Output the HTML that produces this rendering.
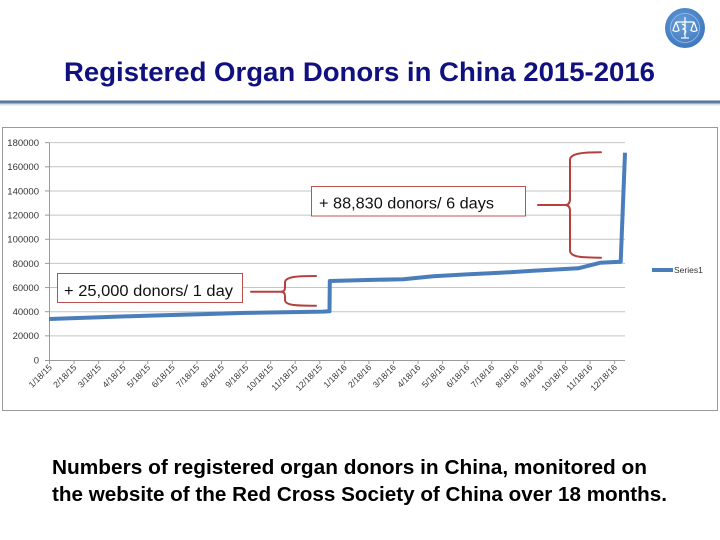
<!DOCTYPE html>
<html>
<head>
<meta charset="utf-8">
<style>
  html,body{margin:0;padding:0;background:#fff;}
  svg{display:block;}
  text{font-family:"Liberation Sans",Arial,sans-serif;}
</style>
</head>
<body>
<svg width="720" height="540" viewBox="0 0 720 540" xmlns="http://www.w3.org/2000/svg">
  <defs>
    <linearGradient id="div" x1="0" y1="0" x2="0" y2="1">
      <stop offset="0" stop-color="#4a6b95"/>
      <stop offset="1" stop-color="#6b89b0"/>
    </linearGradient>
    <linearGradient id="shadow" x1="0" y1="0" x2="0" y2="1">
      <stop offset="0" stop-color="#c8d2de"/>
      <stop offset="1" stop-color="#ffffff"/>
    </linearGradient>
    <radialGradient id="logo" cx="0.45" cy="0.4" r="0.6">
      <stop offset="0" stop-color="#6a9fd8"/>
      <stop offset="1" stop-color="#3d78bf"/>
    </radialGradient>
  </defs>

  <rect width="720" height="540" fill="#fff"/>

  <!-- Logo -->
  <circle cx="685" cy="28" r="20" fill="url(#logo)"/>
  <circle cx="685" cy="28" r="14.5" fill="none" stroke="#9cc0e8" stroke-width="0.8"/>
  <g stroke="#fff" stroke-width="1.2" fill="none">
    <line x1="685" y1="17" x2="685" y2="38"/>
    <line x1="676" y1="22" x2="694" y2="22"/>
    <path d="M676,22 L673,30 M676,22 L679,30 M694,22 L691,30 M694,22 L697,30"/>
    <path d="M672.5,30 Q676,33 679.5,30 M690.5,30 Q694,33 697.5,30"/>
    <path d="M682,24 Q688,26 683,29 Q688,31 684,34"/>
    <line x1="681" y1="38" x2="689" y2="38"/>
  </g>

  <!-- Title -->
  <text x="64" y="81" font-size="27" font-weight="bold" fill="#10107f" textLength="591" lengthAdjust="spacingAndGlyphs">Registered Organ Donors in China 2015-2016</text>

  <!-- Divider -->
  <rect x="0" y="100.5" width="720" height="3" fill="url(#div)"/>
  <rect x="0" y="103.5" width="720" height="3" fill="url(#shadow)"/>

  <!-- Chart frame -->
  <rect x="2.5" y="127.5" width="715" height="283" fill="#fff" stroke="#9a9a9a" stroke-width="1"/>

  <!-- Gridlines -->
  <g stroke="#c4c4c4" stroke-width="1">
    <line x1="49" y1="142.65" x2="625" y2="142.65"/>
    <line x1="49" y1="166.8" x2="625" y2="166.8"/>
    <line x1="49" y1="190.95" x2="625" y2="190.95"/>
    <line x1="49" y1="215.1" x2="625" y2="215.1"/>
    <line x1="49" y1="239.25" x2="625" y2="239.25"/>
    <line x1="49" y1="263.4" x2="625" y2="263.4"/>
    <line x1="49" y1="287.55" x2="625" y2="287.55"/>
    <line x1="49" y1="311.7" x2="625" y2="311.7"/>
    <line x1="49" y1="335.85" x2="625" y2="335.85"/>
  </g>

  <!-- Axes -->
  <g stroke="#9a9a9a" stroke-width="1">
    <line x1="49.5" y1="142.65" x2="49.5" y2="360"/>
    <line x1="49" y1="360.5" x2="625" y2="360.5"/>
    <!-- y ticks -->
    <line x1="45" y1="142.65" x2="49" y2="142.65"/>
    <line x1="45" y1="166.8" x2="49" y2="166.8"/>
    <line x1="45" y1="190.95" x2="49" y2="190.95"/>
    <line x1="45" y1="215.1" x2="49" y2="215.1"/>
    <line x1="45" y1="239.25" x2="49" y2="239.25"/>
    <line x1="45" y1="263.4" x2="49" y2="263.4"/>
    <line x1="45" y1="287.55" x2="49" y2="287.55"/>
    <line x1="45" y1="311.7" x2="49" y2="311.7"/>
    <line x1="45" y1="335.85" x2="49" y2="335.85"/>
    <line x1="45" y1="360.5" x2="49" y2="360.5"/>
    <!-- x ticks -->
    <line x1="49.5" y1="360" x2="49.5" y2="364"/>
    <line x1="74.07" y1="360" x2="74.07" y2="364"/>
    <line x1="98.64" y1="360" x2="98.64" y2="364"/>
    <line x1="123.21" y1="360" x2="123.21" y2="364"/>
    <line x1="147.78" y1="360" x2="147.78" y2="364"/>
    <line x1="172.35" y1="360" x2="172.35" y2="364"/>
    <line x1="196.92" y1="360" x2="196.92" y2="364"/>
    <line x1="221.49" y1="360" x2="221.49" y2="364"/>
    <line x1="246.06" y1="360" x2="246.06" y2="364"/>
    <line x1="270.63" y1="360" x2="270.63" y2="364"/>
    <line x1="295.2" y1="360" x2="295.2" y2="364"/>
    <line x1="319.77" y1="360" x2="319.77" y2="364"/>
    <line x1="344.34" y1="360" x2="344.34" y2="364"/>
    <line x1="368.91" y1="360" x2="368.91" y2="364"/>
    <line x1="393.48" y1="360" x2="393.48" y2="364"/>
    <line x1="418.05" y1="360" x2="418.05" y2="364"/>
    <line x1="442.62" y1="360" x2="442.62" y2="364"/>
    <line x1="467.19" y1="360" x2="467.19" y2="364"/>
    <line x1="491.76" y1="360" x2="491.76" y2="364"/>
    <line x1="516.33" y1="360" x2="516.33" y2="364"/>
    <line x1="540.9" y1="360" x2="540.9" y2="364"/>
    <line x1="565.47" y1="360" x2="565.47" y2="364"/>
    <line x1="590.04" y1="360" x2="590.04" y2="364"/>
    <line x1="614.61" y1="360" x2="614.61" y2="364"/>
  </g>

  <!-- Y labels -->
  <g font-size="9.5" fill="#333" text-anchor="end">
    <text x="39" y="146">180000</text>
    <text x="39" y="170.2">160000</text>
    <text x="39" y="194.3">140000</text>
    <text x="39" y="218.5">120000</text>
    <text x="39" y="242.6">100000</text>
    <text x="39" y="266.8">80000</text>
    <text x="39" y="290.9">60000</text>
    <text x="39" y="315.1">40000</text>
    <text x="39" y="339.2">20000</text>
    <text x="39" y="363.4">0</text>
  </g>

  <!-- X labels -->
  <g font-size="8.6" fill="#333" text-anchor="end">
    <text transform="translate(52.5,368) rotate(-45)">1/18/15</text>
    <text transform="translate(77.07,368) rotate(-45)">2/18/15</text>
    <text transform="translate(101.64,368) rotate(-45)">3/18/15</text>
    <text transform="translate(126.21,368) rotate(-45)">4/18/15</text>
    <text transform="translate(150.78,368) rotate(-45)">5/18/15</text>
    <text transform="translate(175.35,368) rotate(-45)">6/18/15</text>
    <text transform="translate(199.92,368) rotate(-45)">7/18/15</text>
    <text transform="translate(224.49,368) rotate(-45)">8/18/15</text>
    <text transform="translate(249.06,368) rotate(-45)">9/18/15</text>
    <text transform="translate(273.63,368) rotate(-45)">10/18/15</text>
    <text transform="translate(298.2,368) rotate(-45)">11/18/15</text>
    <text transform="translate(322.77,368) rotate(-45)">12/18/15</text>
    <text transform="translate(347.34,368) rotate(-45)">1/18/16</text>
    <text transform="translate(371.91,368) rotate(-45)">2/18/16</text>
    <text transform="translate(396.48,368) rotate(-45)">3/18/16</text>
    <text transform="translate(421.05,368) rotate(-45)">4/18/16</text>
    <text transform="translate(445.62,368) rotate(-45)">5/18/16</text>
    <text transform="translate(470.19,368) rotate(-45)">6/18/16</text>
    <text transform="translate(494.76,368) rotate(-45)">7/18/16</text>
    <text transform="translate(519.33,368) rotate(-45)">8/18/16</text>
    <text transform="translate(543.9,368) rotate(-45)">9/18/16</text>
    <text transform="translate(568.47,368) rotate(-45)">10/18/16</text>
    <text transform="translate(593.04,368) rotate(-45)">11/18/16</text>
    <text transform="translate(617.61,368) rotate(-45)">12/18/16</text>
  </g>

  <!-- Data series -->
  <polyline fill="none" stroke="#4a7ebb" stroke-width="4" stroke-linejoin="round"
    points="49,319 100,317.2 150,315.6 200,314.2 245,312.9 285,312.3 323,311.6 329.5,311.3 329.8,281 366.7,280 403.3,279.2 433.3,276.2 466.7,274.4 500,272.8 533.3,270.8 578.3,268.3 600,262.8 620.7,261.8 625,152.7"/>

  <!-- Legend -->
  <line x1="652" y1="270" x2="673" y2="270" stroke="#4a7ebb" stroke-width="4"/>
  <text x="674" y="273" font-size="8.5" fill="#333">Series1</text>

  <!-- Annotation boxes -->
  <rect x="57.5" y="273.5" width="185" height="29" fill="#fff" stroke="#c0504d" stroke-width="1"/>
  <text x="64" y="296" font-size="15.5" fill="#111" textLength="169" lengthAdjust="spacingAndGlyphs">+ 25,000 donors/ 1 day</text>

  <rect x="311.5" y="186.5" width="214" height="29.5" fill="#fff" stroke="#c0504d" stroke-width="1"/>
  <text x="319" y="208.5" font-size="15.5" fill="#111" textLength="175" lengthAdjust="spacingAndGlyphs">+ 88,830 donors/ 6 days</text>

  <!-- Braces -->
  <g fill="none" stroke="#b5403d" stroke-width="2" stroke-linecap="round">
    <line x1="251" y1="291.7" x2="281" y2="291.7"/>
    <path d="M316,276 C298,276 285,276.5 285,282.5 L285,287.5 Q285,291.7 281,291.7 Q285,291.7 285,296 L285,300 C285,305.7 298,305.7 316,305.7"/>
    <line x1="538" y1="205" x2="565" y2="205"/>
    <path d="M601,152.3 C585,152.3 570,153 570,160 L570,199 Q570,205 565,205 Q570,205 570,211 L570,250.5 C570,257.7 585,257.7 601,257.7"/>
  </g>

  <!-- Caption -->
  <text x="52" y="474" font-size="20" font-weight="bold" fill="#000" textLength="595" lengthAdjust="spacingAndGlyphs">Numbers of registered organ donors in China, monitored on</text>
  <text x="52" y="501" font-size="20" font-weight="bold" fill="#000" textLength="615" lengthAdjust="spacingAndGlyphs">the website of the Red Cross Society of China over 18 months.</text>
</svg>
</body>
</html>
